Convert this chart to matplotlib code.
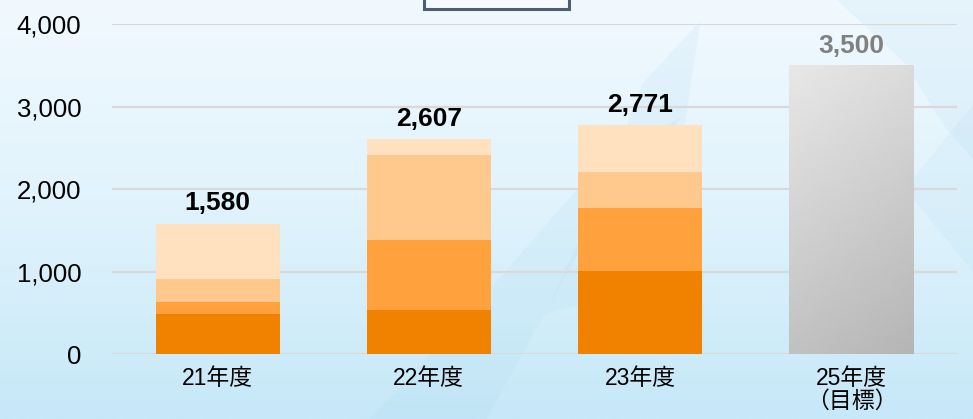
import numpy as np
import matplotlib
matplotlib.use("Agg")
import matplotlib.pyplot as plt
from matplotlib.patches import Rectangle, Polygon
from matplotlib.colors import LinearSegmentedColormap

plt.rcParams['font.family'] = ['Liberation Sans', 'Noto Sans CJK JP', 'DejaVu Sans']

# data (stacked segments, bottom to top)
categories = ["21年度", "22年度", "23年度", "25年度\n（目標）"]
seg1 = [485, 530, 1010]
seg2 = [150, 850, 755]
seg3 = [270, 1037, 445]
seg4 = [675, 190, 561]
totals = [1580, 2607, 2771]
target = 3500
seg_colors = ["#F08200", "#FFA23E", "#FFC98E", "#FFE0BF"]

fig = plt.figure(figsize=(9.73, 4.19), dpi=100)

# background: light blue vertical gradient
bg = fig.add_axes([0, 0, 1, 1], zorder=-10)
bg_cmap = LinearSegmentedColormap.from_list("bg", ["#F1F9FE", "#E0F3FC", "#C6E8F8"])
grad = np.linspace(0, 1, 256).reshape(-1, 1)
bg.imshow(grad, aspect="auto", cmap=bg_cmap, extent=[0, 1, 0, 1], origin="upper")
# faint swirl shapes
swirls = [
    [(0.38, 0.0), (0.50, 0.30), (0.62, 0.62), (0.70, 0.72), (0.60, 0.42), (0.50, 0.0)],
    [(0.56, 0.25), (0.62, 0.55), (0.66, 0.80), (0.72, 0.95), (0.70, 0.65), (0.64, 0.30)],
    [(0.86, 1.0), (0.93, 0.85), (0.97, 0.70), (1.0, 0.62), (1.0, 1.0)],
    [(0.93, 0.55), (1.0, 0.75), (1.0, 0.35)],
]
for pts in swirls:
    bg.add_patch(Polygon(pts, closed=True, facecolor="#A8D8F0", alpha=0.14, lw=0))
bg.set_xlim(0, 1)
bg.set_ylim(0, 1)
bg.axis("off")

ax = fig.add_axes([0.1151, 0.1551, 0.8684, 0.7876])
ax.patch.set_alpha(0)

x = np.arange(len(categories))
width = 0.588
bottom = np.zeros(3)
for vals, col in zip([seg1, seg2, seg3, seg4], seg_colors):
    ax.bar(x[:3], vals, width, bottom=bottom, color=col, zorder=3, lw=0)
    bottom += np.array(vals)

# target bar with gray gradient
tbar = ax.bar(x[3], target, width, color="none", lw=0, zorder=3)[0]
gx = np.linspace(0, 1, 64)
gy = np.linspace(0, 1, 128)
GX, GY = np.meshgrid(gx, gy)
gray_cmap = LinearSegmentedColormap.from_list("g", ["#E8E8E8", "#B5B5B5"])
im = ax.imshow(0.75 * GY + 0.25 * GX, cmap=gray_cmap, aspect="auto", origin="upper",
               extent=[tbar.get_x(), tbar.get_x() + tbar.get_width(), 0, target],
               zorder=3, vmin=0, vmax=1)
im.set_clip_path(tbar)

for xi, t in zip(x[:3], totals):
    ax.annotate(f"{t:,}", (xi, t), xytext=(0, 6), textcoords="offset points",
                ha="center", va="bottom", fontsize=19, fontweight="bold", color="black")
ax.annotate(f"{target:,}", (x[3], target), xytext=(0, 5), textcoords="offset points",
            ha="center", va="bottom", fontsize=19, fontweight="bold", color="#808080")

ax.set_xlim(-0.5, 3.5)
ax.set_ylim(0, 4000)
ax.set_yticks([0, 1000, 2000, 3000, 4000])
ax.set_yticklabels([f"{v:,}" for v in [0, 1000, 2000, 3000, 4000]], fontsize=18.5)
ax.set_xticks(x)
ax.set_xticklabels(categories, fontsize=16.5, linespacing=1.0, va="top")
ax.tick_params(axis="y", length=0, pad=22)
ax.tick_params(axis="x", length=0, pad=9)
ax.grid(axis="y", color="#D9D9D9", lw=1.6, zorder=0)
ax.set_axisbelow(True)
for s in ax.spines.values():
    s.set_visible(False)

# partially visible legend box at the top
fig.add_artist(Rectangle((424 / 973, 1 - 9 / 419), 145 / 973, 30 / 419,
                         transform=fig.transFigure, facecolor="#F4FAFE",
                         edgecolor="#4F5D73", lw=2.2))

fig.savefig("out.png", dpi=100)
